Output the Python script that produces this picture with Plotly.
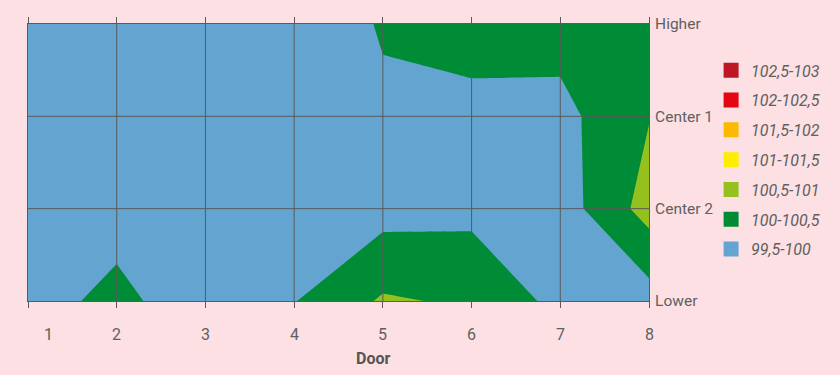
import plotly.graph_objects as go

# ---- data ----
doors = [1, 2, 3, 4, 5, 6, 7, 8]
door_labels = ["1", "2", "3", "4", "5", "6", "7", "8"]
levels = ["Lower", "Center 2", "Center 1", "Higher"]

# measured values (per door) at each height
z_lower   = [99.775, 100.15, 99.65, 99.98, 100.56, 100.43, 99.85, 99.77]
z_center2 = [99.70, 99.775, 99.70, 99.70, 99.81, 99.86, 99.75, 100.70]
z_center1 = [99.70, 99.70, 99.70, 99.70, 99.94, 99.86, 99.85, 100.48]
z_higher  = [99.70, 99.70, 99.70, 99.75, 100.03, 100.20, 100.20, 100.30]

band_labels = ["99,5-100", "100-100,5", "100,5-101", "101-101,5",
               "101,5-102", "102-102,5", "102,5-103"]
band_colors = ["#63A5D0", "#008C36", "#95C11F", "#FFED00",
               "#FBBA00", "#E30613", "#BE1622"]

BG = "#FDE0E3"
LINE = "#5a5a5a"
TXT = "#5f5f5f"
FONT = "Roboto, sans-serif"

level_pos = list(range(len(levels)))
z = [z_lower, z_center2, z_center1, z_higher]

# stepped colour scale: Plotly colours each filled band at its midpoint
n = len(band_colors) + 1
cols = [band_colors[0]] + band_colors + [band_colors[-1]]
colorscale = []
for i, c in enumerate(cols):
    lo = max(0.0, (i - 0.5) / n)
    hi = min(1.0, (i + 0.5) / n)
    colorscale.append([lo, c])
    colorscale.append([hi, c])

fig = go.Figure()
fig.add_trace(go.Contour(
    x=doors, y=level_pos, z=z,
    colorscale=colorscale,
    contours=dict(start=99.5, end=103, size=0.5, coloring="fill", showlines=False),
    line=dict(width=0, smoothing=0),
    showscale=False, hoverinfo="skip", showlegend=False,
))

for lab, c in reversed(list(zip(band_labels, band_colors))):
    fig.add_trace(go.Scatter(
        x=[None], y=[None], mode="markers", name=lab, legendgroup=lab,
        marker=dict(symbol="square", size=15, color=c),
    ))

# grid lines drawn above the filled contour
shapes = []
for d in doors[1:-1]:
    shapes.append(dict(type="line", xref="x", yref="paper", x0=d, x1=d, y0=0, y1=1,
                       line=dict(color=LINE, width=1), layer="above"))
for yv in level_pos[1:-1]:
    shapes.append(dict(type="line", xref="paper", yref="y", x0=0, x1=1, y0=yv, y1=yv,
                       line=dict(color=LINE, width=1), layer="above"))

annotations = []
for i, (d, lab) in enumerate(zip(doors, door_labels)):
    annotations.append(dict(x=d, y=0, xref="x", yref="paper", text=lab, showarrow=False,
                            yanchor="middle", yshift=-33, xshift=20 if i == 0 else 0,
                            font=dict(size=16, color=TXT, family=FONT)))
annotations.append(dict(x=0.556, y=0, xref="paper", yref="paper", text="<b>Door</b>",
                        showarrow=False, yanchor="middle", yshift=-57,
                        font=dict(size=16, color="#555555", family=FONT)))

fig.update_layout(
    width=840, height=375,
    margin=dict(l=28, r=191, t=24, b=74),
    paper_bgcolor=BG, plot_bgcolor=BG,
    shapes=shapes, annotations=annotations,
    xaxis=dict(range=[1, 8], tickvals=doors, showticklabels=False,
               ticks="outside", ticklen=6, tickcolor=LINE, tickwidth=1,
               showline=True, linecolor=LINE, linewidth=1, mirror="ticks",
               showgrid=False, zeroline=False, layer="above traces"),
    yaxis=dict(range=[0, 3], side="right", tickvals=level_pos, ticktext=levels,
               ticks="", showline=True, linecolor=LINE, linewidth=1, mirror=True,
               showgrid=False, zeroline=False, layer="above traces",
               tickfont=dict(size=15.5, color=TXT, family=FONT), ticklabelstandoff=2),
    legend=dict(x=1.10, y=0.894, xanchor="left", yanchor="top",
                font=dict(size=16, color=TXT, family=FONT, style="italic"),
                bgcolor="rgba(0,0,0,0)", tracegroupgap=6, traceorder="grouped",
                itemclick=False, itemdoubleclick=False),
    showlegend=True,
)

fig.write_html("out.html")
